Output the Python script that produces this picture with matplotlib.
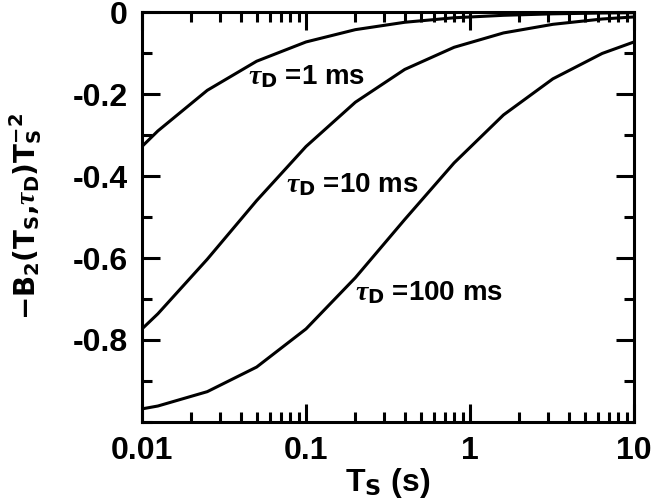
import matplotlib
matplotlib.use("Agg")
import matplotlib.pyplot as plt
from matplotlib.ticker import FixedLocator, FixedFormatter, LogLocator, NullFormatter

plt.rcParams["font.family"] = "Liberation Sans"
plt.rcParams["font.weight"] = "bold"
plt.rcParams["axes.unicode_minus"] = False
plt.rcParams["mathtext.fontset"] = "custom"
plt.rcParams["mathtext.rm"] = "Liberation Sans Narrow:bold"
plt.rcParams["mathtext.bf"] = "Liberation Sans Narrow:bold"
plt.rcParams["mathtext.it"] = "Liberation Serif:italic"

# sampling times (s), shared by all curves
ts = [0.01, 0.0125, 0.025, 0.05, 0.1, 0.2, 0.4, 0.8, 1.6, 3.2, 6.4, 10]
b2_1ms = [-0.328, -0.290, -0.191, -0.120, -0.073, -0.043, -0.025, -0.014, -0.008, -0.0044, -0.0024, -0.0016]
b2_10ms = [-0.773, -0.736, -0.603, -0.460, -0.328, -0.220, -0.140, -0.086, -0.051, -0.030, -0.017, -0.012]
b2_100ms = [-0.968, -0.961, -0.926, -0.866, -0.773, -0.648, -0.506, -0.368, -0.251, -0.163, -0.101, -0.073]

labels = [r"$\tau_\mathrm{D}$ =1 ms", r"$\tau_\mathrm{D}$ =10 ms", r"$\tau_\mathrm{D}$ =100 ms"]
label_pos = [(0.044, -0.158), (0.075, -0.422), (0.2, -0.685)]

y_major = [-0.8, -0.6, -0.4, -0.2, 0.0]
y_major_labels = ["-0.8", "-0.6", "-0.4", "-0.2", "0"]
y_minor = [-1.0, -0.9, -0.7, -0.5, -0.3, -0.1]
x_major = [0.01, 0.1, 1, 10]
x_major_labels = ["0.01", "0.1", "1", "10"]

fig = plt.figure(figsize=(6.52, 5.01), dpi=100)
ax = fig.add_axes([0.2178, 0.1577, 0.7546, 0.8183])

for series in (b2_1ms, b2_10ms, b2_100ms):
    ax.plot(ts, series, color="black", linewidth=2.2)

for text, (x, y) in zip(labels, label_pos):
    ax.text(x, y, text, fontsize=20, fontweight="bold", ha="left", va="center")

ax.set_xscale("log")
ax.set_xlim(0.01, 10)
ax.set_ylim(-1.0, 0.0)
ax.xaxis.set_major_locator(FixedLocator(x_major))
ax.xaxis.set_major_formatter(FixedFormatter(x_major_labels))
ax.xaxis.set_minor_locator(LogLocator(base=10, subs=range(2, 10)))
ax.xaxis.set_minor_formatter(NullFormatter())
ax.yaxis.set_major_locator(FixedLocator(y_major))
ax.yaxis.set_major_formatter(FixedFormatter(y_major_labels))
ax.yaxis.set_minor_locator(FixedLocator(y_minor))

ax.tick_params(which="both", direction="in", top=True, right=True, width=2.2, labelsize=23)
ax.tick_params(which="major", length=13, pad=10)
ax.tick_params(which="minor", length=7)
for spine in ax.spines.values():
    spine.set_linewidth(2.2)

ax.set_xlabel(r"T$_\mathrm{S}$ (s)", fontsize=23, fontweight="bold", labelpad=0)
ax.set_ylabel("\u2212B$_2$(T$_\\mathrm{S}$,$\\tau_\\mathrm{D}$)T$_\\mathrm{S}^{-2}$",
              fontsize=20, fontweight="bold", family="Liberation Sans Narrow")
ax.yaxis.set_label_coords(-0.2, 0.5)

fig.savefig("out.png", dpi=100)
